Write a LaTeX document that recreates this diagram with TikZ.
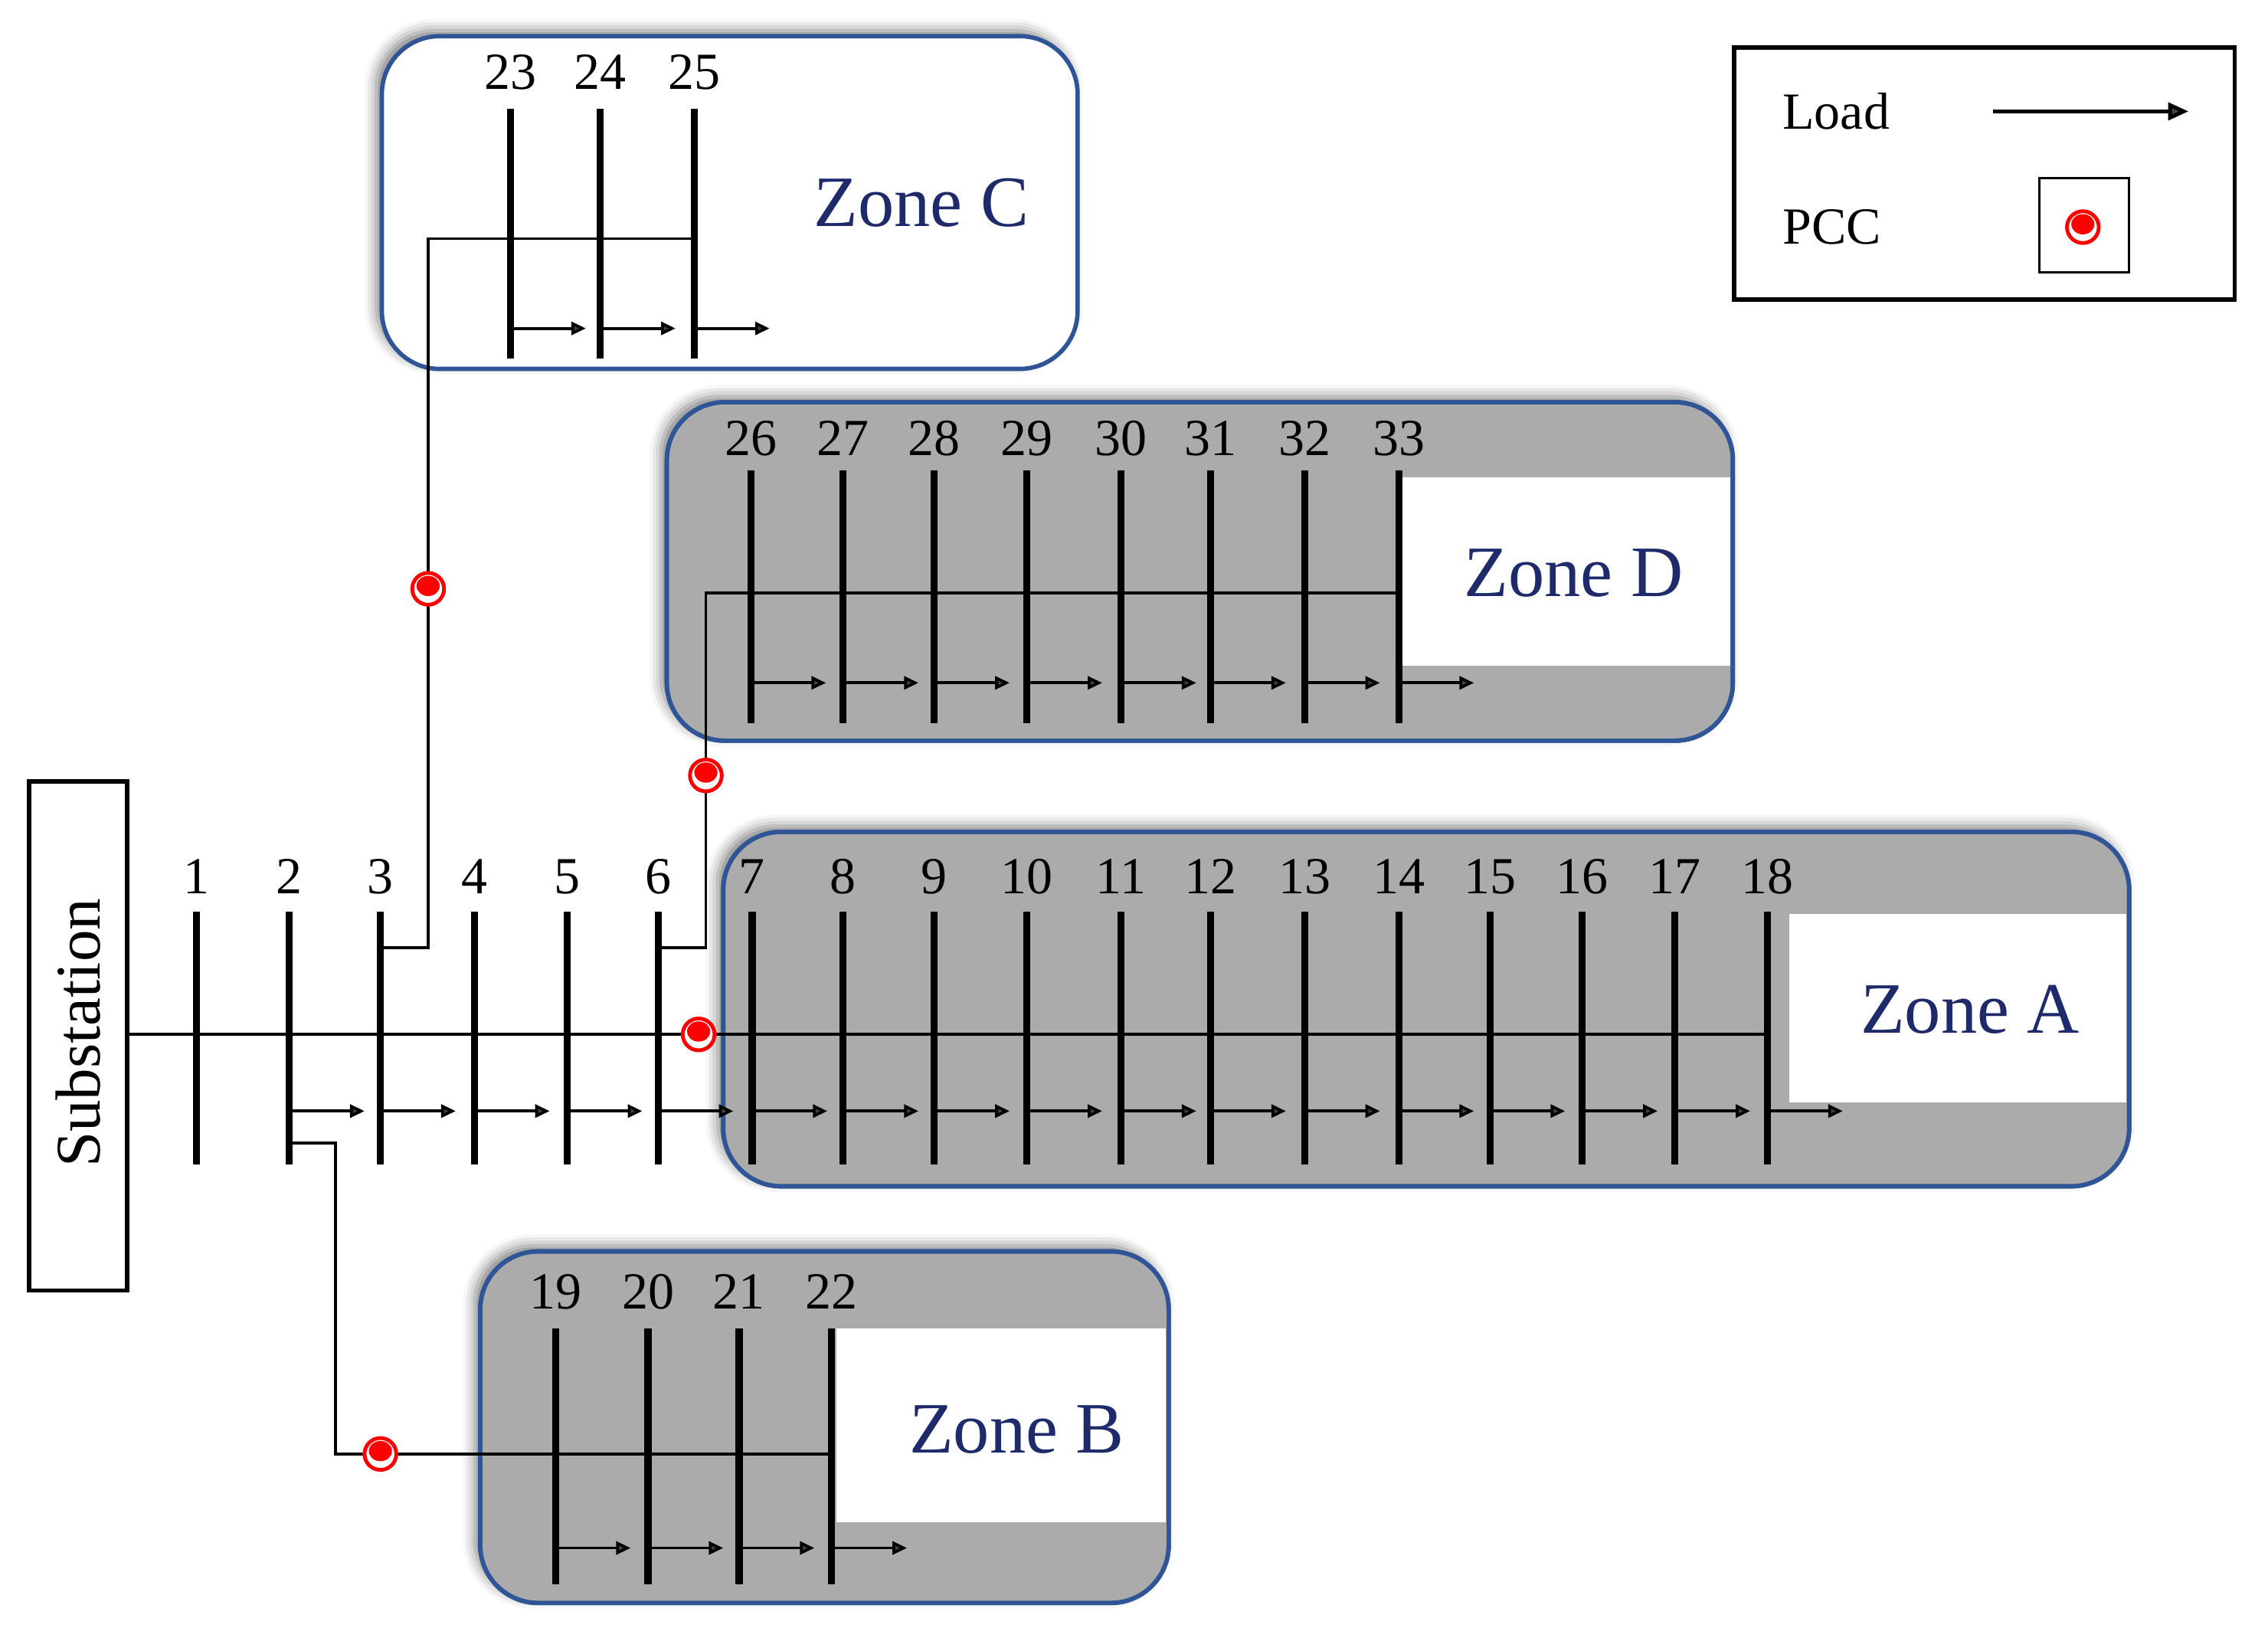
\documentclass[tikz,border=0pt]{standalone}
\usepackage{fontspec}
\setmainfont{Liberation Serif}
\usetikzlibrary{arrows.meta,shadows.blur}
\definecolor{zb}{HTML}{2F5597}
\definecolor{zt}{HTML}{1F2A6B}
\definecolor{zg}{HTML}{ABABAB}
\begin{document}
\begin{tikzpicture}[x=0.5pt,y=-0.5pt,
  bus/.style={line width=2.4pt},
  wire/.style={line width=1pt},
  load/.style={line width=1pt,-{Triangle[length=5pt,width=4.5pt]}},
  zone/.style={draw=zb,line width=1.5pt,rounded corners=20pt},
  zshadow/.style={blur shadow={shadow xshift=-2pt,shadow yshift=2pt,shadow blur radius=4pt,shadow opacity=50}},
  num/.style={font=\fontsize{18}{18}\selectfont,inner sep=0pt},
  zlabel/.style={text=zt,font=\fontsize{25}{25}\selectfont,inner sep=0pt},
  lab/.style={font=\fontsize{18}{18}\selectfont,inner sep=0pt,anchor=west},
  pcc/.pic={\fill[white] (0,0) circle[radius=11];
            \draw[red,line width=1.3pt] (0,0) circle[radius=11];
            \fill[red] (0,-2) ellipse[x radius=8,y radius=7];}]
\useasboundingbox (0,0) rectangle (1568,1134);

% ---------- zones ----------
\path[zone,fill=white,zshadow] (264,25) rectangle (745,255);
\node[zlabel] (zC) at (637,140) {Zone C};
\path[zone,fill=zg,zshadow] (461,278) rectangle (1198,512);
\fill[white] (967,330) rectangle (1196,460);
\draw[zone] (461,278) rectangle (1198,512);
\node[zlabel] (zD) at (1088,396) {Zone D};
\path[zone,fill=zg,zshadow] (500,575) rectangle (1472,820);
\fill[white] (1237,632) rectangle (1470,762);
\draw[zone] (500,575) rectangle (1472,820);
\node[zlabel] (zA) at (1362,698) {Zone A};
\path[zone,fill=zg,zshadow] (332,865) rectangle (808,1108);
\fill[white] (578,918) rectangle (806,1052);
\draw[zone] (332,865) rectangle (808,1108);
\node[zlabel] (zB) at (703,988) {Zone B};

% ---------- substation ----------
\node[draw,line width=1.5pt,minimum width=34pt,minimum height=176pt,inner sep=0pt] (sub) at (54,716) {};
\node[rotate=90,font=\fontsize{22}{22}\selectfont] (subt) at (54,714) {Substation};

% ---------- main feeder buses 1..18 ----------
\foreach \i/\x in {1/136,2/200,3/263,4/328,5/392,6/455,7/520,8/583,9/646,10/710,11/775,12/837,13/902,14/967,15/1030,16/1094,17/1158,18/1222}{
  \coordinate (b\i t) at (\x,630);
  \coordinate (b\i b) at (\x,805);
  \coordinate (b\i m) at (\x,715);
  \coordinate (b\i l) at (\x,768);
  \coordinate (b\i e) at (\x+52,768);
  \node[num] (n\i) at (\x,606) {\i};
  \draw[bus] (b\i t) -- (b\i b);
}
\foreach \i in {2,...,18}{\draw[load] (b\i l) -- (b\i e);}
\draw[wire] (sub.east |- b1m) -- (b18m);

% ---------- Zone B branch ----------
\foreach \i/\x in {19/384,20/448,21/511,22/575}{
  \coordinate (b\i t) at (\x,918);
  \coordinate (b\i b) at (\x,1095);
  \coordinate (b\i m) at (\x,1005);
  \coordinate (b\i l) at (\x,1070);
  \coordinate (b\i e) at (\x+52,1070);
  \node[num] (n\i) at (\x,893) {\i};
  \draw[bus] (b\i t) -- (b\i b);
  \draw[load] (b\i l) -- (b\i e);
}
\coordinate (k2) at (200,790);
\draw[wire] (k2) -| (232,1005) -- (b22m);

% ---------- Zone C branch ----------
\foreach \i/\x in {23/353,24/415,25/480}{
  \coordinate (b\i t) at (\x,75);
  \coordinate (b\i b) at (\x,248);
  \coordinate (b\i m) at (\x,165);
  \coordinate (b\i l) at (\x,227);
  \coordinate (b\i e) at (\x+52,227);
  \node[num] (n\i) at (\x,50) {\i};
  \draw[bus] (b\i t) -- (b\i b);
  \draw[load] (b\i l) -- (b\i e);
}
\coordinate (k3) at (263,655);
\draw[wire] (k3) -| (296,165) -- (b25m);

% ---------- Zone D branch ----------
\foreach \i/\x in {26/519,27/583,28/646,29/710,30/775,31/837,32/902,33/967}{
  \coordinate (b\i t) at (\x,325);
  \coordinate (b\i b) at (\x,500);
  \coordinate (b\i m) at (\x,410);
  \coordinate (b\i l) at (\x,472);
  \coordinate (b\i e) at (\x+52,472);
  \node[num] (n\i) at (\x,303) {\i};
  \draw[bus] (b\i t) -- (b\i b);
  \draw[load] (b\i l) -- (b\i e);
}
\coordinate (k6) at (455,655);
\draw[wire] (k6) -| (488,410) -- (b33m);

% ---------- PCCs ----------
\pic at (263,1005) {pcc};
\pic at (296,407) {pcc};
\pic at (488,536) {pcc};
\pic at (483,715) {pcc};

% ---------- legend ----------
\node[draw,line width=1.5pt,minimum width=173pt,minimum height=87pt,inner sep=0pt] (leg) at (1372,120) {};
\node[lab] (lload) at (1232,77) {Load};
\node[lab] (lpcc) at (1232,157) {PCC};
\coordinate (la) at (1378,77);
\coordinate (lb) at (1513,77);
\draw[load,line width=1.3pt,-{Triangle[length=7pt,width=6pt]}] (la) -- (lb);
\node[draw,line width=0.8pt,minimum width=31pt,minimum height=32.5pt,inner sep=0pt] (pbox) at (1441,155.5) {};
\pic at (1440,157) {pcc};
\end{tikzpicture}
\end{document}
